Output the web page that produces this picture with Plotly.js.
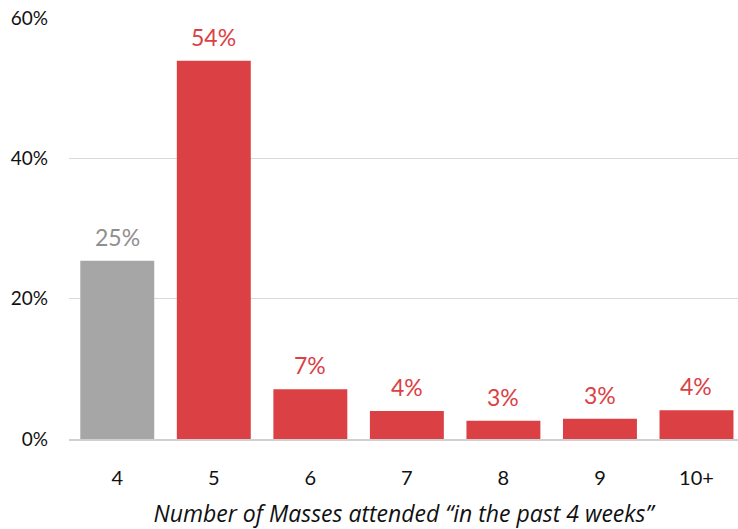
<!DOCTYPE html>
<html><head><meta charset="utf-8">
<script src="https://cdn.plot.ly/plotly-3.0.1.min.js"></script>
<style>html,body{margin:0;padding:0;background:#fff;}#chart{width:738px;height:529px;}</style>
</head><body><div id="chart"></div>
<script>
const categories = ["4","5","6","7","8","9","10+"];
const values = [25.4, 53.9, 7.1, 4.0, 2.6, 2.9, 4.1];
const labels = ["25%","54%","7%","4%","3%","3%","4%"];
const barColors = ["#A6A6A6","#DB4144","#DB4144","#DB4144","#DB4144","#DB4144","#DB4144"];
const labelColors = ["#8F8F8F","#DB4144","#DB4144","#DB4144","#DB4144","#DB4144","#DB4144"];
const yTicks = [0,20,40,60];
const yTickText = ["0%","20%","40%","60%"];
const xTitle = "Number of Masses attended \u201cin the past 4 weeks\u201d";

const font = "Lato, 'Open Sans', sans-serif";
const trace = {
  type: "bar", x: categories, y: values,
  marker: {color: barColors}, hoverinfo: "skip"
};
const annotations = categories.map((c,i)=>({
  x: i, y: values[i], xref: "x", yref: "y", text: labels[i],
  showarrow: false, yanchor: "bottom", yshift: 8,
  font: {family: font, size: 23, color: labelColors[i]}
}));
const layout = {
  width: 738, height: 529,
  margin: {l: 69, r: 0, t: 18, b: 90},
  paper_bgcolor: "#fff", plot_bgcolor: "rgba(0,0,0,0)",
  bargap: 0.234, showlegend: false,
  xaxis: {
    range: [-0.5, 6.43], type: "category",
    tickfont: {family: font, size: 20, color: "#111"},
    ticks: "", showgrid: false, zeroline: false,
    showline: true, linecolor: "#D0D0D0", linewidth: 2,
    ticklabelstandoff: 20,
    title: {text: xTitle, font: {family: "'Open Sans', sans-serif", size: 23, color: "#111", style: "italic"}, standoff: 18}
  },
  yaxis: {
    range: [0, 60], tickvals: yTicks, ticktext: yTickText,
    tickfont: {family: font, size: 19, color: "#111"},
    showgrid: true, gridcolor: "#D9D9D9", gridwidth: 1.5, zeroline: false,
    ticks: "", ticklabelstandoff: 20
  },
  annotations: annotations
};
Plotly.newPlot("chart", [trace], layout, {displayModeBar: false, staticPlot: true});
</script></body></html>
